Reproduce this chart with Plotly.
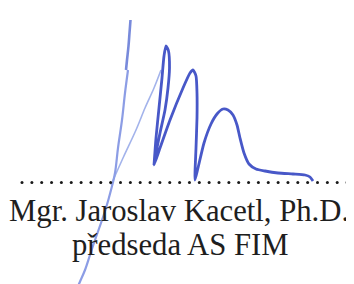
import plotly.graph_objects as go

# Signature strokes (pixel-space coordinates of the scanned signature)
stem_top_x = [122.5, 121.5, 120.5, 119.0, 118.0]
stem_top_y = [12, 25, 38, 52, 62]
stem_x = [120, 117, 114, 110, 107, 103, 98, 93, 87, 82, 77, 71, 68]
stem_y = [62, 85, 112, 140, 165, 182, 200, 215, 232, 247, 262, 276, 284]
diag_x = [103, 115, 128, 137, 146, 153]
diag_y = [177, 150, 122, 100, 80, 62]
sig_x = [146, 148, 151, 154, 156, 158, 160.5, 161.5, 160, 157, 152, 148, 146,
         152, 162, 175, 182, 185, 188, 189, 189, 188, 187,
         190, 196, 203, 209, 215, 220, 225, 229, 232, 236, 241, 248,
         257, 270, 285, 297, 302, 305]
sig_y = [157, 130, 100, 70, 48, 38, 43, 60, 80, 102, 125, 145, 157,
         140, 112, 80, 65, 62, 68, 85, 110, 140, 172,
         160, 135, 116, 106, 101, 102, 107, 117, 130, 145, 156, 161,
         163, 165, 166, 167, 169, 173]
dot_x = [14 + 9.85 * i for i in range(35)]
dot_y = [174.5] * 35
name_line = "Mgr. Jaroslav Kacetl, Ph.D."
title_line = "předseda AS FIM"

fig = go.Figure()
fig.add_trace(go.Scatter(x=stem_x, y=stem_y, mode="lines",
                         line=dict(color="rgba(120,140,225,0.85)", width=2.2, shape="spline"),
                         hoverinfo="skip"))
fig.add_trace(go.Scatter(x=diag_x, y=diag_y, mode="lines",
                         line=dict(color="rgba(140,160,230,0.8)", width=1.6, shape="spline"),
                         hoverinfo="skip"))
fig.add_trace(go.Scatter(x=stem_top_x, y=stem_top_y, mode="lines",
                         line=dict(color="rgba(105,125,215,0.9)", width=2.6, shape="spline"),
                         hoverinfo="skip"))
fig.add_trace(go.Scatter(x=sig_x, y=sig_y, mode="lines",
                         line=dict(color="rgb(72,88,200)", width=2.8, shape="spline", smoothing=0.6),
                         hoverinfo="skip"))
fig.add_trace(go.Scatter(x=dot_x, y=dot_y, mode="markers",
                         marker=dict(color="#1a1a1a", size=3), hoverinfo="skip"))

fig.add_annotation(x=0, xshift=-1, y=202.5, text=name_line, showarrow=False, xanchor="left", yanchor="middle",
                   font=dict(family="Liberation Serif", size=30.7, color="#1e1e1e"))
fig.add_annotation(x=62, y=236.5, text=title_line, showarrow=False, xanchor="left", yanchor="middle",
                   font=dict(family="Liberation Serif", size=30.7, color="#1e1e1e"))

fig.update_layout(width=354, height=284, margin=dict(l=0, r=0, t=0, b=0),
                  paper_bgcolor="white", plot_bgcolor="white", showlegend=False,
                  xaxis=dict(range=[0, 354], visible=False, fixedrange=True),
                  yaxis=dict(range=[284, 0], visible=False, fixedrange=True))
fig.write_html("out.html", config=dict(displayModeBar=False))
